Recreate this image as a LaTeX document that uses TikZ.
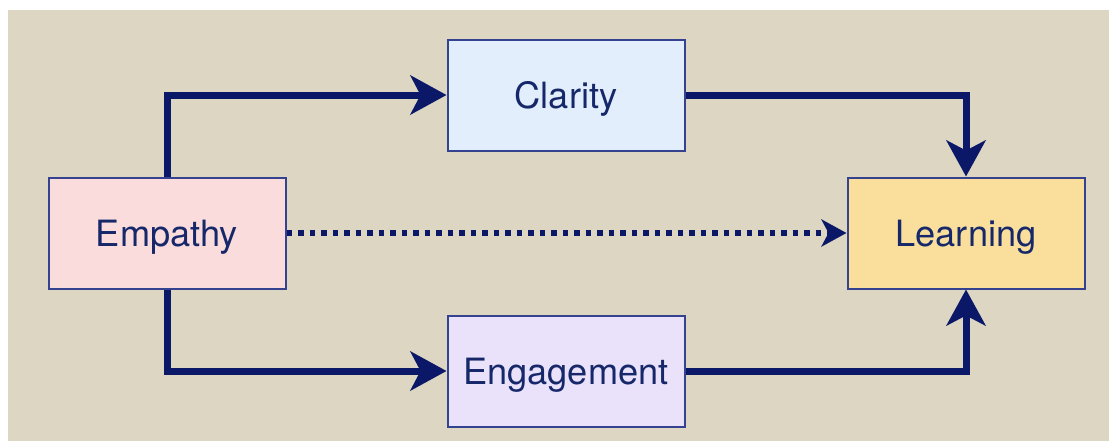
\documentclass[tikz,border=0pt]{standalone}
\usepackage{fontspec}
\setmainfont{TeX Gyre Heros}
\usetikzlibrary{arrows.meta}
\definecolor{cBG}{HTML}{DCD6C3}
\definecolor{cNAV}{HTML}{0B1868}
\definecolor{cEDG}{HTML}{34428F}
\definecolor{cTXT}{HTML}{16286A}
\definecolor{cPNK}{HTML}{FADCDC}
\definecolor{cBLU}{HTML}{E2EEFC}
\definecolor{cLAV}{HTML}{EAE2FA}
\definecolor{cYEL}{HTML}{FADF9C}

\begin{document}
\begin{tikzpicture}[font=\fontsize{20.6}{24}\selectfont,
  box/.style={draw=cEDG, line width=0.04cm, minimum width=4.74cm, minimum height=2.22cm,
    text=cTXT, inner sep=0pt, text depth=0pt},
  flow/.style={draw=cNAV, line width=0.14cm,
    -{Stealth[length=0.72cm, width=0.78cm, inset=0.2cm]}},
  hint/.style={draw=cNAV, line width=0.11cm, dash pattern=on 0.11cm off 0.12cm,
    -{Stealth[length=0.5cm, width=0.54cm, inset=0.14cm]}}]
% page and backdrop
\fill[white] (0,0) rectangle (22.18,8.82);
\fill[cBG] (0.16,0) rectangle (22.18,8.62);
\useasboundingbox (0,0) rectangle (22.18,8.82);
\node[box, fill=cPNK] (emp) at (3.34,4.16) {Empathy};
\node[box, fill=cBLU] (cla) at (11.32,6.92) {Clarity};
\node[box, fill=cLAV] (eng) at (11.32,1.40) {Engagement};
\node[box, fill=cYEL] (lrn) at (19.32,4.16) {Learning};
\draw[flow] (emp.north) |- (cla.west);
\draw[flow] (emp.south) |- (eng.west);
\draw[flow] (cla.east) -| (lrn.north);
\draw[flow] (eng.east) -| (lrn.south);
\draw[hint] (emp.east) -- (lrn.west);
\end{tikzpicture}
\end{document}
